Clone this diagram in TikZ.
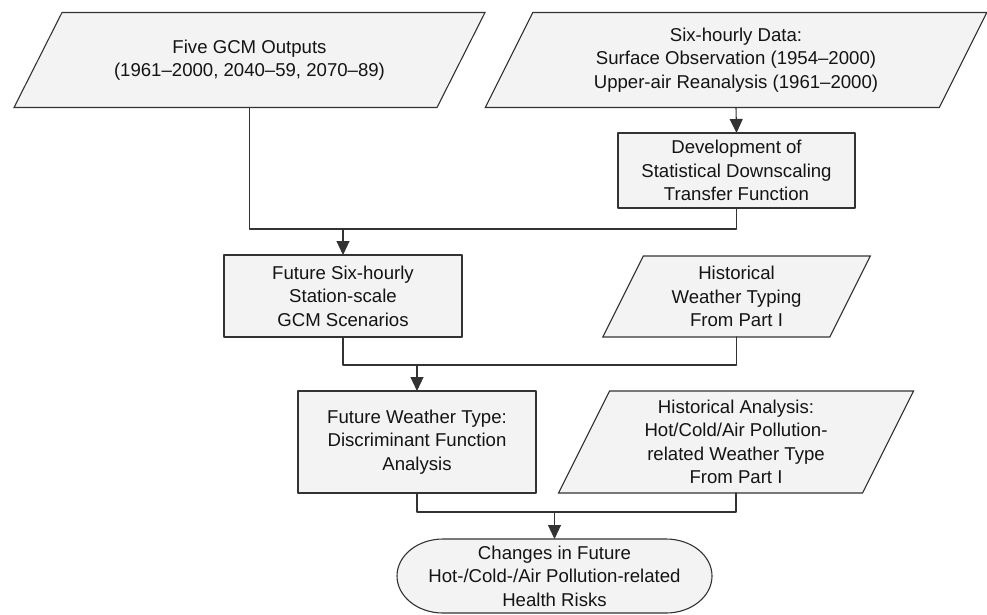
\documentclass[tikz,border=0pt]{standalone}
\usepackage{fontspec}
\setmainfont{Liberation Sans}
\usetikzlibrary{arrows.meta, backgrounds}

\definecolor{linegray}{HTML}{333333}
\definecolor{boxfill}{HTML}{F3F3F3}

\tikzset{
	txt/.style={align=center, inner sep=0pt, outer sep=0pt, text=black!92,
		font=\fontsize{18.6pt}{23.4pt}\selectfont},
	box/.style={txt, draw=linegray, fill=boxfill, line width=1.1pt},
	shp/.style={draw=linegray, fill=boxfill, line width=1.1pt},
	conn/.style={draw=linegray, line width=1.1pt},
	arr/.style={conn, -{Triangle[width=13pt,length=14pt]}},
}

\begin{document}
\begin{tikzpicture}[x=1pt, y=1pt, line cap=round, line join=round]
	\useasboundingbox (0,0) rectangle (987,-614);

	% Eingaben (Parallelogramme)
	\node[txt, minimum width=423, minimum height=95] (gcm) at (249.5,-60)
		{Five GCM Outputs\\(1961--2000, 2040--59, 2070--89)};
	\node[txt, minimum width=454, minimum height=95] (obs) at (736,-60)
		{Six-hourly Data:\\Surface Observation (1954--2000)\\Upper-air Reanalysis (1961--2000)};

	% Zwischenschritte
	\node[box, minimum width=237, minimum height=75] (dev) at (736.5,-170.5)
		{Development of\\Statistical Downscaling\\Transfer Function};
	\node[box, minimum width=238, minimum height=82] (scen) at (343,-296)
		{Future Six-hourly\\Station-scale\\GCM Scenarios};
	\node[txt, minimum width=227, minimum height=81] (wtyp) at (736.5,-296.5)
		{Historical\\Weather Typing\\From Part I};
	\node[box, minimum width=238, minimum height=102] (dfa) at (417,-442)
		{Future Weather Type:\\Discriminant Function\\Analysis};
	\node[txt, minimum width=304, minimum height=102] (hist) at (736,-442)
		{Historical Analysis:\\Hot/Cold/Air Pollution-\\related Weather Type\\From Part I};

	% Ergebnis
	\node[txt, minimum width=315, minimum height=74] (risk) at (554.5,-576)
		{Changes in Future\\Hot-/Cold-/Air Pollution-related\\Health Risks};

	% Umrisse hinter den Texten
	\begin{scope}[on background layer]
		\foreach \n/\s in {gcm/48, obs/47.5, wtyp/40.5, hist/51} {
			\draw[shp] ([xshift=\s/2]\n.north west) -- ([xshift=\s/2]\n.north east)
				-- ([xshift=-\s/2]\n.south east) -- ([xshift=-\s/2]\n.south west) -- cycle;
		}
		\draw[shp] ([xshift=46pt]risk.north west) -- ([xshift=-46pt]risk.north east)
			arc[start angle=90, end angle=-90, x radius=46, y radius=37]
			-- ([xshift=46pt]risk.south west)
			arc[start angle=270, end angle=90, x radius=46, y radius=37] -- cycle;
	\end{scope}

	% Knotenpunkte der Verbindungen
	\coordinate (j1) at (343,-229);
	\coordinate (j2) at (417,-365);
	\coordinate (j3) at (554.5,-512);

	% Verbindungen
	\draw[arr] (obs.south) -- (dev.north);
	\draw[conn] (gcm.south) |- (j1) -| (dev.south);
	\draw[arr] (j1) -- (scen.north);
	\draw[conn] (scen.south) |- (j2) -| (wtyp.south);
	\draw[arr] (j2) -- (dfa.north);
	\draw[conn] (dfa.south) |- (j3) -| (hist.south);
	\draw[arr] (j3) -- (risk.north);
\end{tikzpicture}
\end{document}
